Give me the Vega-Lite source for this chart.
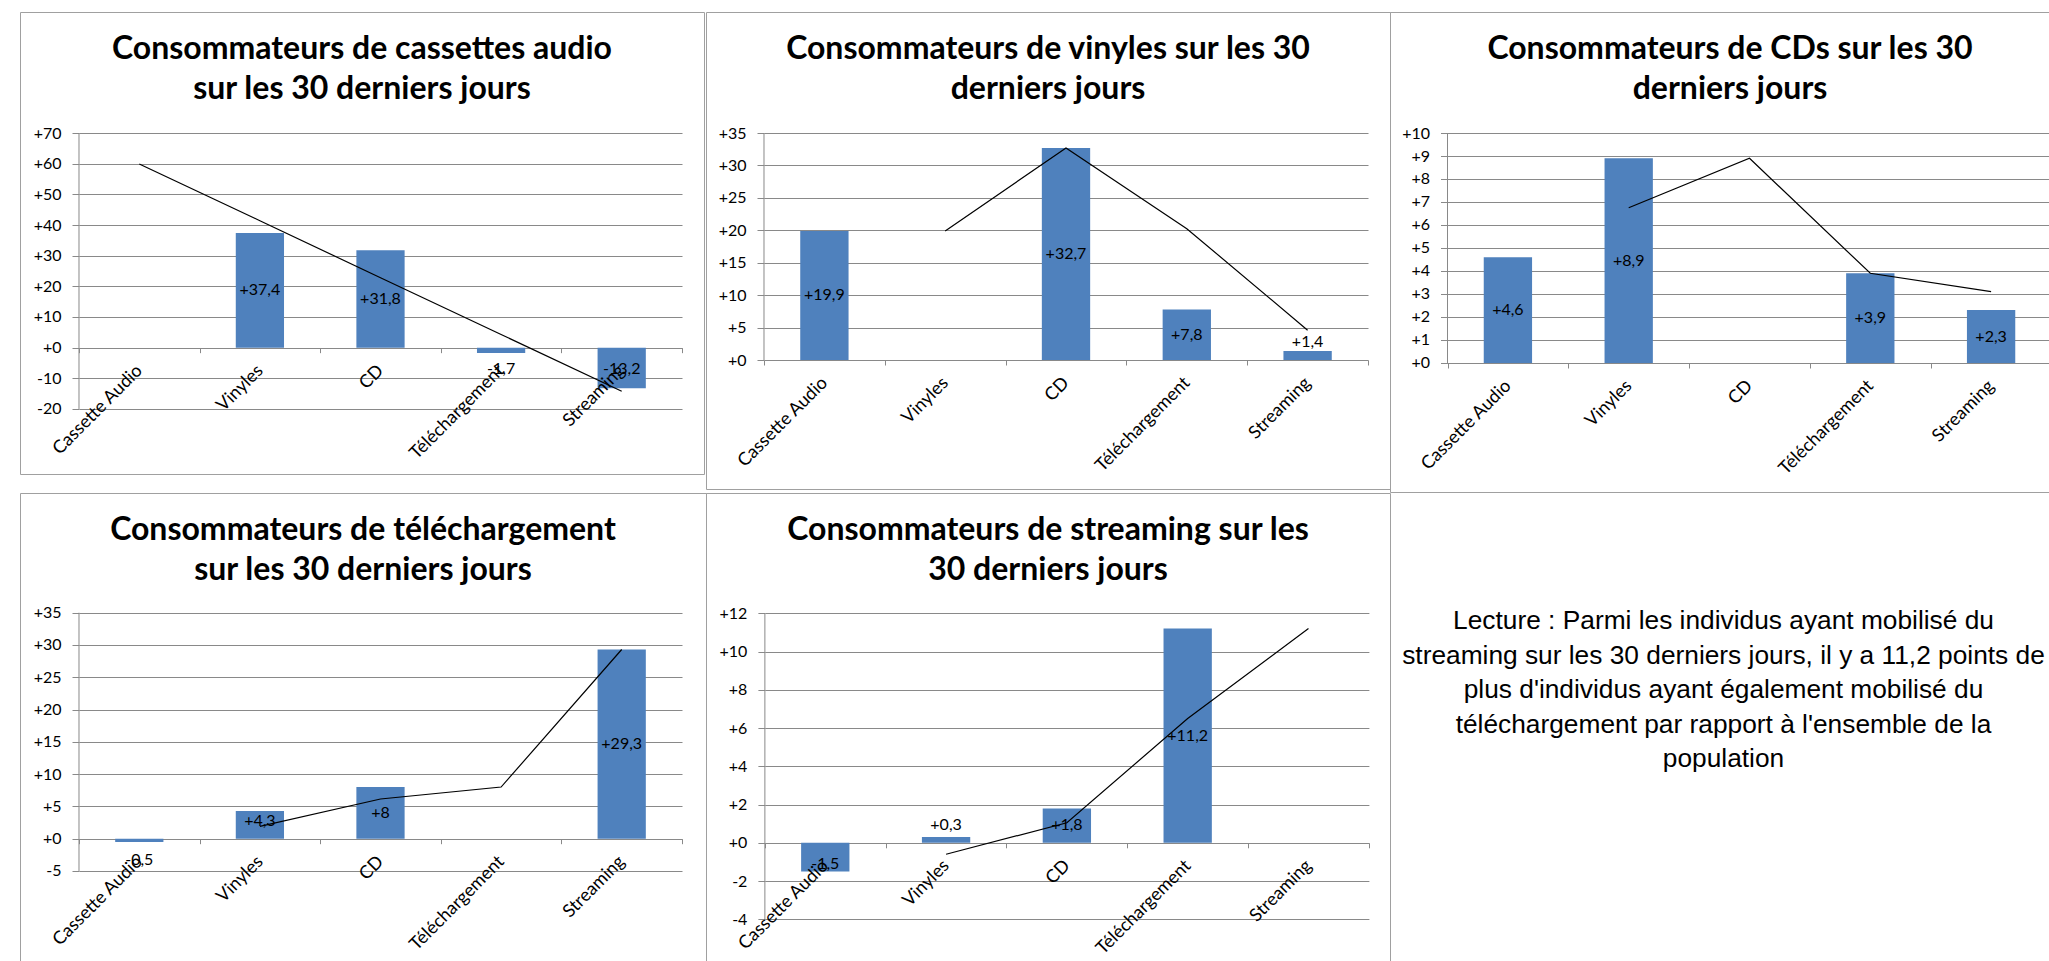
{
  "$schema": "https://vega.github.io/schema/vega-lite/v6.json",
  "background": "white",
  "padding": {"left": 13, "top": 11, "right": 0, "bottom": 0},
  "columns": 3,
  "align": "none",
  "bounds": "flush",
  "spacing": {"row": 1, "column": 0},
  "config": {
    "view": {"stroke": "#a0a0a0", "strokeWidth": 1},
    "title": {"font": "Lato", "fontSize": 32, "fontWeight": "bold", "color": "#000000", "lineHeight": 40, "anchor": "middle", "frame": "group"}
  },
  "concat": [
    {
      "width": 684, "height": 462,
      "title": {"text": ["Consommateurs de cassettes audio", "sur les 30 derniers jours"], "offset": -93.5},
      "data": {"values": [
        {"cat": "Vinyles", "v": 37.4, "lbl": "+37,4"},
        {"cat": "CD", "v": 31.8, "lbl": "+31,8"},
        {"cat": "Téléchargement", "v": -1.7, "lbl": "-1,7"},
        {"cat": "Streaming", "v": -13.2, "lbl": "-13,2"}
      ]},
      "encoding": {"x": {"field": "cat", "type": "nominal", "sort": null,
        "scale": {"type": "band", "domain": ["Cassette Audio", "Vinyles", "CD", "Téléchargement", "Streaming"], "paddingInner": 0, "paddingOuter": 0.3358, "align": 0.7284},
        "axis": {"orient": "bottom", "offset": -126.33, "domain": false, "grid": false, "ticks": true, "tickBand": "extent", "tickSize": 5, "tickColor": "#898989", "labelAngle": -45, "labelAlign": "right", "labelBaseline": "middle", "labelPadding": 15, "labelFont": "Lato", "labelFontSize": 18, "labelColor": "#000000", "title": null, "zindex": 1, "labelLimit": 400}}},
      "layer": [
        {"data": {"values": [{}]}, "mark": {"type": "rule", "color": "#898989", "strokeWidth": 1},
         "encoding": {
           "x": {"datum": "Cassette Audio", "type": "nominal", "bandPosition": 0, "scale": {"type": "band", "domain": ["Cassette Audio", "Vinyles", "CD", "Téléchargement", "Streaming"], "paddingInner": 0, "paddingOuter": 0.3358, "align": 0.7284},
             "axis": {"orient": "bottom", "offset": -126.33, "domain": false, "grid": false, "ticks": true, "tickBand": "extent", "tickSize": 5, "tickColor": "#898989", "labelAngle": -45, "labelAlign": "right", "labelBaseline": "middle", "labelPadding": 15, "labelFont": "Lato", "labelFontSize": 18, "labelColor": "#000000", "title": null, "zindex": 1, "labelLimit": 400}},
           "y": {"datum": 70, "type": "quantitative", "scale": {"domain": [-41.196, 109.457], "nice": false, "zero": false}, "axis": null},
           "y2": {"datum": -20}}},
        {"mark": {"type": "bar", "color": "#4f81bd", "width": {"band": 0.4}},
         "encoding": {"y": {"field": "v", "type": "quantitative", "scale": {"domain": [-41.196, 109.457], "nice": false, "zero": false},
           "axis": {"orient": "left", "offset": -59, "values": [-20, -10, 0, 10, 20, 30, 40, 50, 60, 70], "domain": false, "grid": false, "tickSize": 7, "tickColor": "#898989", "labelPadding": 11, "labelExpr": "datum.value >= 0 ? '+' + datum.value : '' + datum.value", "labelFont": "Lato", "labelFontSize": 16, "labelColor": "#000000", "title": null}}}},
        {"data": {"values": [
          {"cat": "Cassette Audio", "t": 59.9},
          {"cat": "Vinyles", "t": 41.4},
          {"cat": "CD", "t": 22.8},
          {"cat": "Téléchargement", "t": 4.3},
          {"cat": "Streaming", "t": -14.2}
        ]},
         "mark": {"type": "line", "color": "#000000", "strokeWidth": 1.2},
         "encoding": {"y": {"field": "t", "type": "quantitative", "scale": {"domain": [-41.196, 109.457], "nice": false, "zero": false},
           "axis": {"orient": "right", "offset": -22, "values": [-20, -10, 0, 10, 20, 30, 40, 50, 60, 70], "domain": false, "grid": false, "labels": false, "tickSize": -603, "tickColor": "#898989", "title": null}}}},
        {"mark": {"type": "text", "font": "Lato", "fontSize": 16, "color": "#000000", "align": "center", "baseline": "middle",
           "dy": {"expr": "datum.v >= 0 ? datum.v*3.0667 - max(datum.v*1.5333, 18) : datum.v*3.0667 + max(-datum.v*1.5333, 21)"}},
         "encoding": {"y": {"field": "v", "type": "quantitative", "scale": {"domain": [-41.196, 109.457], "nice": false, "zero": false}, "axis": null},
           "text": {"field": "lbl", "type": "nominal"}}}
      ],
      "resolve": {"axis": {"y": "independent"}}
    },
    {
      "width": 684, "height": 477,
      "title": {"text": ["Consommateurs de vinyles sur les 30", "derniers jours"], "offset": -93.5},
      "data": {"values": [
        {"cat": "Cassette Audio", "v": 19.9, "lbl": "+19,9"},
        {"cat": "CD", "v": 32.7, "lbl": "+32,7"},
        {"cat": "Téléchargement", "v": 7.8, "lbl": "+7,8"},
        {"cat": "Streaming", "v": 1.4, "lbl": "+1,4"}
      ]},
      "encoding": {"x": {"field": "cat", "type": "nominal", "sort": null,
        "scale": {"type": "band", "domain": ["Cassette Audio", "Vinyles", "CD", "Téléchargement", "Streaming"], "paddingInner": 0, "paddingOuter": 0.3311, "align": 0.725},
        "axis": {"orient": "bottom", "offset": -129, "domain": false, "grid": false, "ticks": true, "tickBand": "extent", "tickSize": 5, "tickColor": "#898989", "labelAngle": -45, "labelAlign": "right", "labelBaseline": "middle", "labelPadding": 15, "labelFont": "Lato", "labelFontSize": 18, "labelColor": "#000000", "title": null, "zindex": 1, "labelLimit": 400}}},
      "layer": [
        {"data": {"values": [{}]}, "mark": {"type": "rule", "color": "#898989", "strokeWidth": 1},
         "encoding": {
           "x": {"datum": "Cassette Audio", "type": "nominal", "bandPosition": 0, "scale": {"type": "band", "domain": ["Cassette Audio", "Vinyles", "CD", "Téléchargement", "Streaming"], "paddingInner": 0, "paddingOuter": 0.3311, "align": 0.725},
             "axis": {"orient": "bottom", "offset": -129, "domain": false, "grid": false, "ticks": true, "tickBand": "extent", "tickSize": 5, "tickColor": "#898989", "labelAngle": -45, "labelAlign": "right", "labelBaseline": "middle", "labelPadding": 15, "labelFont": "Lato", "labelFontSize": 18, "labelColor": "#000000", "title": null, "zindex": 1, "labelLimit": 400}},
           "y": {"datum": 35, "type": "quantitative", "scale": {"domain": [-19.89, 53.657], "nice": false, "zero": false}, "axis": null},
           "y2": {"datum": 0}}},
        {"mark": {"type": "bar", "color": "#4f81bd", "width": {"band": 0.4}},
         "encoding": {"y": {"field": "v", "type": "quantitative", "scale": {"domain": [-19.89, 53.657], "nice": false, "zero": false},
           "axis": {"orient": "left", "offset": -58, "values": [0, 5, 10, 15, 20, 25, 30, 35], "domain": false, "grid": false, "tickSize": 7, "tickColor": "#898989", "labelPadding": 11, "labelExpr": "datum.value >= 0 ? '+' + datum.value : '' + datum.value", "labelFont": "Lato", "labelFontSize": 16, "labelColor": "#000000", "title": null}}}},
        {"data": {"values": [
          {"cat": "Vinyles", "t": 19.9},
          {"cat": "CD", "t": 32.7},
          {"cat": "Téléchargement", "t": 20.25},
          {"cat": "Streaming", "t": 4.6}
        ]},
         "mark": {"type": "line", "color": "#000000", "strokeWidth": 1.2},
         "encoding": {"y": {"field": "t", "type": "quantitative", "scale": {"domain": [-19.89, 53.657], "nice": false, "zero": false},
           "axis": {"orient": "right", "offset": -22, "values": [0, 5, 10, 15, 20, 25, 30, 35], "domain": false, "grid": false, "labels": false, "tickSize": -604, "tickColor": "#898989", "title": null}}}},
        {"mark": {"type": "text", "font": "Lato", "fontSize": 16, "color": "#000000", "align": "center", "baseline": "middle",
           "dy": {"expr": "datum.v >= 0 ? datum.v*6.4857 - max(datum.v*3.2429, 18) : datum.v*6.4857 + max(-datum.v*3.2429, 21)"}},
         "encoding": {"y": {"field": "v", "type": "quantitative", "scale": {"domain": [-19.89, 53.657], "nice": false, "zero": false}, "axis": null},
           "text": {"field": "lbl", "type": "nominal"}}}
      ],
      "resolve": {"axis": {"y": "independent"}}
    },
    {
      "width": 667, "height": 480,
      "title": {"text": ["Consommateurs de CDs sur les 30", "derniers jours"], "offset": -93.5, "dx": 6.5},
      "data": {"values": [
        {"cat": "Cassette Audio", "v": 4.6, "lbl": "+4,6"},
        {"cat": "Vinyles", "v": 8.9, "lbl": "+8,9"},
        {"cat": "Téléchargement", "v": 3.9, "lbl": "+3,9"},
        {"cat": "Streaming", "v": 2.3, "lbl": "+2,3"}
      ]},
      "encoding": {"x": {"field": "cat", "type": "nominal", "sort": null,
        "scale": {"type": "band", "domain": ["Cassette Audio", "Vinyles", "CD", "Téléchargement", "Streaming"], "paddingInner": 0, "paddingOuter": 0.2608, "align": 0.9127},
        "axis": {"orient": "bottom", "offset": -129, "domain": false, "grid": false, "ticks": true, "tickBand": "extent", "tickSize": 5, "tickColor": "#898989", "labelAngle": -45, "labelAlign": "right", "labelBaseline": "middle", "labelPadding": 15, "labelFont": "Lato", "labelFontSize": 18, "labelColor": "#000000", "title": null, "zindex": 1, "labelLimit": 400}}},
      "layer": [
        {"data": {"values": [{}]}, "mark": {"type": "rule", "color": "#898989", "strokeWidth": 1},
         "encoding": {
           "x": {"datum": "Cassette Audio", "type": "nominal", "bandPosition": 0, "scale": {"type": "band", "domain": ["Cassette Audio", "Vinyles", "CD", "Téléchargement", "Streaming"], "paddingInner": 0, "paddingOuter": 0.2608, "align": 0.9127},
             "axis": {"orient": "bottom", "offset": -129, "domain": false, "grid": false, "ticks": true, "tickBand": "extent", "tickSize": 5, "tickColor": "#898989", "labelAngle": -45, "labelAlign": "right", "labelBaseline": "middle", "labelPadding": 15, "labelFont": "Lato", "labelFontSize": 18, "labelColor": "#000000", "title": null, "zindex": 1, "labelLimit": 400}},
           "y": {"datum": 10, "type": "quantitative", "scale": {"domain": [-5.609, 15.261], "nice": false, "zero": false}, "axis": null},
           "y2": {"datum": 0}}},
        {"mark": {"type": "bar", "color": "#4f81bd", "width": {"band": 0.4}},
         "encoding": {"y": {"field": "v", "type": "quantitative", "scale": {"domain": [-5.609, 15.261], "nice": false, "zero": false},
           "axis": {"orient": "left", "offset": -57.5, "values": [0, 1, 2, 3, 4, 5, 6, 7, 8, 9, 10], "domain": false, "grid": false, "tickSize": 7, "tickColor": "#898989", "labelPadding": 11, "labelExpr": "datum.value >= 0 ? '+' + datum.value : '' + datum.value", "labelFont": "Lato", "labelFontSize": 16, "labelColor": "#000000", "title": null}}}},
        {"data": {"values": [
          {"cat": "Vinyles", "t": 6.75},
          {"cat": "CD", "t": 8.9},
          {"cat": "Téléchargement", "t": 3.9},
          {"cat": "Streaming", "t": 3.1}
        ]},
         "mark": {"type": "line", "color": "#000000", "strokeWidth": 1.2},
         "encoding": {"y": {"field": "t", "type": "quantitative", "scale": {"domain": [-5.609, 15.261], "nice": false, "zero": false},
           "axis": {"orient": "right", "offset": -5.5, "values": [0, 1, 2, 3, 4, 5, 6, 7, 8, 9, 10], "domain": false, "grid": false, "labels": false, "tickSize": -604, "tickColor": "#898989", "title": null}}}},
        {"mark": {"type": "text", "font": "Lato", "fontSize": 16, "color": "#000000", "align": "center", "baseline": "middle",
           "dy": {"expr": "datum.v >= 0 ? datum.v*23 - max(datum.v*11.5, 18) : datum.v*23 + max(-datum.v*11.5, 21)"}},
         "encoding": {"y": {"field": "v", "type": "quantitative", "scale": {"domain": [-5.609, 15.261], "nice": false, "zero": false}, "axis": null},
           "text": {"field": "lbl", "type": "nominal"}}}
      ],
      "resolve": {"axis": {"y": "independent"}}
    },
    {
      "width": 686, "height": 468,
      "title": {"text": ["Consommateurs de téléchargement", "sur les 30 derniers jours"], "offset": -93.5},
      "data": {"values": [
        {"cat": "Cassette Audio", "v": -0.5, "lbl": "-0,5"},
        {"cat": "Vinyles", "v": 4.3, "lbl": "+4,3"},
        {"cat": "CD", "v": 8, "lbl": "+8"},
        {"cat": "Streaming", "v": 29.3, "lbl": "+29,3"}
      ]},
      "encoding": {"x": {"field": "cat", "type": "nominal", "sort": null,
        "scale": {"type": "band", "domain": ["Cassette Audio", "Vinyles", "CD", "Téléchargement", "Streaming"], "paddingInner": 0, "paddingOuter": 0.3441, "align": 0.7108},
        "axis": {"orient": "bottom", "offset": -122.3, "domain": false, "grid": false, "ticks": true, "tickBand": "extent", "tickSize": 5, "tickColor": "#898989", "labelAngle": -45, "labelAlign": "right", "labelBaseline": "middle", "labelPadding": 15, "labelFont": "Lato", "labelFontSize": 18, "labelColor": "#000000", "title": null, "zindex": 1, "labelLimit": 400}}},
      "layer": [
        {"data": {"values": [{}]}, "mark": {"type": "rule", "color": "#898989", "strokeWidth": 1},
         "encoding": {
           "x": {"datum": "Cassette Audio", "type": "nominal", "bandPosition": 0, "scale": {"type": "band", "domain": ["Cassette Audio", "Vinyles", "CD", "Téléchargement", "Streaming"], "paddingInner": 0, "paddingOuter": 0.3441, "align": 0.7108},
             "axis": {"orient": "bottom", "offset": -122.3, "domain": false, "grid": false, "ticks": true, "tickBand": "extent", "tickSize": 5, "tickColor": "#898989", "labelAngle": -45, "labelAlign": "right", "labelBaseline": "middle", "labelPadding": 15, "labelFont": "Lato", "labelFontSize": 18, "labelColor": "#000000", "title": null, "zindex": 1, "labelLimit": 400}},
           "y": {"datum": 35, "type": "quantitative", "scale": {"domain": [-18.94, 53.54], "nice": false, "zero": false}, "axis": null},
           "y2": {"datum": -5}}},
        {"mark": {"type": "bar", "color": "#4f81bd", "width": {"band": 0.4}},
         "encoding": {"y": {"field": "v", "type": "quantitative", "scale": {"domain": [-18.94, 53.54], "nice": false, "zero": false},
           "axis": {"orient": "left", "offset": -59, "values": [-5, 0, 5, 10, 15, 20, 25, 30, 35], "domain": false, "grid": false, "tickSize": 7, "tickColor": "#898989", "labelPadding": 11, "labelExpr": "datum.value >= 0 ? '+' + datum.value : '' + datum.value", "labelFont": "Lato", "labelFontSize": 16, "labelColor": "#000000", "title": null}}}},
        {"data": {"values": [
          {"cat": "Vinyles", "t": 1.9},
          {"cat": "CD", "t": 6.15},
          {"cat": "Téléchargement", "t": 8},
          {"cat": "Streaming", "t": 29.3}
        ]},
         "mark": {"type": "line", "color": "#000000", "strokeWidth": 1.2},
         "encoding": {"y": {"field": "t", "type": "quantitative", "scale": {"domain": [-18.94, 53.54], "nice": false, "zero": false},
           "axis": {"orient": "right", "offset": -24, "values": [-5, 0, 5, 10, 15, 20, 25, 30, 35], "domain": false, "grid": false, "labels": false, "tickSize": -603, "tickColor": "#898989", "title": null}}}},
        {"mark": {"type": "text", "font": "Lato", "fontSize": 16, "color": "#000000", "align": "center", "baseline": "middle",
           "dy": {"expr": "datum.v >= 0 ? datum.v*6.4575 - max(datum.v*3.2288, 18) : datum.v*6.4575 + max(-datum.v*3.2288, 21)"}},
         "encoding": {"y": {"field": "v", "type": "quantitative", "scale": {"domain": [-18.94, 53.54], "nice": false, "zero": false}, "axis": null},
           "text": {"field": "lbl", "type": "nominal"}}}
      ],
      "resolve": {"axis": {"y": "independent"}}
    },
    {
      "width": 684, "height": 468,
      "title": {"text": ["Consommateurs de streaming sur les", "30 derniers jours"], "offset": -93.5},
      "data": {"values": [
        {"cat": "Cassette Audio", "v": -1.5, "lbl": "-1,5"},
        {"cat": "Vinyles", "v": 0.3, "lbl": "+0,3"},
        {"cat": "CD", "v": 1.8, "lbl": "+1,8"},
        {"cat": "Téléchargement", "v": 11.2, "lbl": "+11,2"}
      ]},
      "encoding": {"x": {"field": "cat", "type": "nominal", "sort": null,
        "scale": {"type": "band", "domain": ["Cassette Audio", "Vinyles", "CD", "Téléchargement", "Streaming"], "paddingInner": 0, "paddingOuter": 0.3311, "align": 0.736},
        "axis": {"orient": "bottom", "offset": -118.2, "domain": false, "grid": false, "ticks": true, "tickBand": "extent", "tickSize": 5, "tickColor": "#898989", "labelAngle": -45, "labelAlign": "right", "labelBaseline": "middle", "labelPadding": 15, "labelFont": "Lato", "labelFontSize": 18, "labelColor": "#000000", "title": null, "zindex": 1, "labelLimit": 400}}},
      "layer": [
        {"data": {"values": [{}]}, "mark": {"type": "rule", "color": "#898989", "strokeWidth": 1},
         "encoding": {
           "x": {"datum": "Cassette Audio", "type": "nominal", "bandPosition": 0, "scale": {"type": "band", "domain": ["Cassette Audio", "Vinyles", "CD", "Téléchargement", "Streaming"], "paddingInner": 0, "paddingOuter": 0.3311, "align": 0.736},
             "axis": {"orient": "bottom", "offset": -118.2, "domain": false, "grid": false, "ticks": true, "tickBand": "extent", "tickSize": 5, "tickColor": "#898989", "labelAngle": -45, "labelAlign": "right", "labelBaseline": "middle", "labelPadding": 15, "labelFont": "Lato", "labelFontSize": 18, "labelColor": "#000000", "title": null, "zindex": 1, "labelLimit": 400}},
           "y": {"datum": 12, "type": "quantitative", "scale": {"domain": [-6.18, 18.29], "nice": false, "zero": false}, "axis": null},
           "y2": {"datum": -4}}},
        {"mark": {"type": "bar", "color": "#4f81bd", "width": {"band": 0.4}},
         "encoding": {"y": {"field": "v", "type": "quantitative", "scale": {"domain": [-6.18, 18.29], "nice": false, "zero": false},
           "axis": {"orient": "left", "offset": -58.9, "values": [-4, -2, 0, 2, 4, 6, 8, 10, 12], "domain": false, "grid": false, "tickSize": 7, "tickColor": "#898989", "labelPadding": 11, "labelExpr": "datum.value >= 0 ? '+' + datum.value : '' + datum.value", "labelFont": "Lato", "labelFontSize": 16, "labelColor": "#000000", "title": null}}}},
        {"data": {"values": [
          {"cat": "Vinyles", "t": -0.6},
          {"cat": "CD", "t": 1.05},
          {"cat": "Téléchargement", "t": 6.5},
          {"cat": "Streaming", "t": 11.2}
        ]},
         "mark": {"type": "line", "color": "#000000", "strokeWidth": 1.2},
         "encoding": {"y": {"field": "t", "type": "quantitative", "scale": {"domain": [-6.18, 18.29], "nice": false, "zero": false},
           "axis": {"orient": "right", "offset": -21.1, "values": [-4, -2, 0, 2, 4, 6, 8, 10, 12], "domain": false, "grid": false, "labels": false, "tickSize": -604, "tickColor": "#898989", "title": null}}}},
        {"mark": {"type": "text", "font": "Lato", "fontSize": 16, "color": "#000000", "align": "center", "baseline": "middle",
           "dy": {"expr": "datum.v >= 0 ? datum.v*19.125 - max(datum.v*9.5625, 18) : datum.v*19.125 + max(-datum.v*9.5625, 21)"}},
         "encoding": {"y": {"field": "v", "type": "quantitative", "scale": {"domain": [-6.18, 18.29], "nice": false, "zero": false}, "axis": null},
           "text": {"field": "lbl", "type": "nominal"}}}
      ],
      "resolve": {"axis": {"y": "independent"}}
    },
    {
      "width": 665, "height": 468,
      "data": {"values": [
        {"texte": "Lecture : Parmi les individus ayant mobilisé du\nstreaming sur les 30 derniers jours, il y a 11,2 points de\nplus d'individus ayant également mobilisé du\ntéléchargement par rapport à l'ensemble de la\npopulation"}
      ]},
      "mark": {"type": "text", "font": "Liberation Sans", "fontSize": 26.3, "lineHeight": 34.6, "lineBreak": "\n", "align": "center", "baseline": "middle", "dx": 1, "dy": -106, "color": "#000000"},
      "encoding": {"text": {"field": "texte", "type": "nominal"}}
    }
  ]
}
